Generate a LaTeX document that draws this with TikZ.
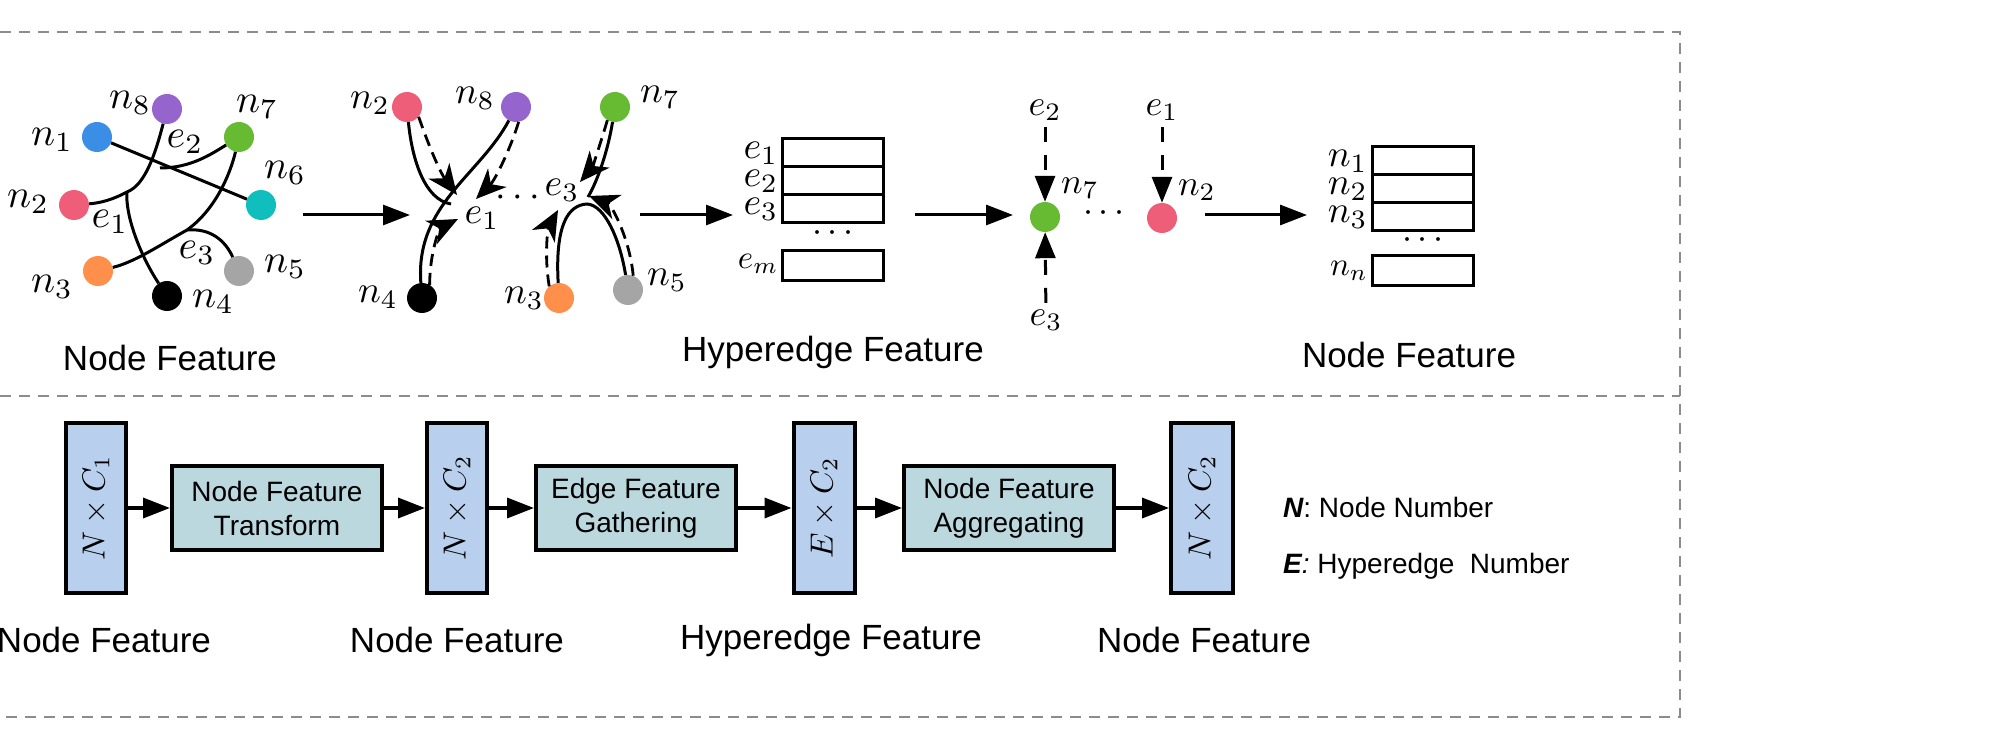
\documentclass[tikz,border=0pt]{standalone}
\usepackage[no-math]{fontspec}
\setmainfont{Liberation Sans}
\usetikzlibrary{arrows.meta}
\definecolor{cBlue}{RGB}{58,142,230}
\definecolor{cPurple}{RGB}{150,100,205}
\definecolor{cGreen}{RGB}{102,187,51}
\definecolor{cTeal}{RGB}{17,190,190}
\definecolor{cPink}{RGB}{238,94,120}
\definecolor{cOrange}{RGB}{255,143,74}
\definecolor{cGray}{RGB}{165,165,165}
\definecolor{frameGray}{RGB}{140,140,140}
\definecolor{dimFill}{RGB}{184,208,237}
\definecolor{procFill}{RGB}{188,216,223}
\newcommand{\dimtext}[1]{\scalebox{3.2}{\rotatebox{90}{$#1$}}}
\begin{document}
\begin{tikzpicture}[x=1pt,y=-1pt,
  dot/.style={circle,minimum size=30pt,inner sep=0pt},
  gedge/.style={line width=3pt},
  flowarrow/.style={line width=3pt,-{Triangle[length=27pt,width=20pt]}},
  dasharrow/.style={line width=2.8pt,dash pattern=on 12pt off 7pt,-{Stealth[length=30pt,width=26pt,inset=9pt]}},
  vdash/.style={line width=3pt,dash pattern=on 15pt off 13pt,-{Triangle[length=26pt,width=20pt]}},
  mbase/.style={inner sep=0pt,font=\fontsize{10}{12}\selectfont},
  mlab/.style={mbase,scale=4},
  mlabb/.style={mbase,scale=3.8},
  mlabc/.style={mbase,scale=3.6},
  msmall/.style={mbase,scale=3.3},
  caption/.style={inner sep=0pt,font=\fontsize{35}{42}\selectfont},
  rowbox/.style={draw,line width=3pt,minimum width=101pt,minimum height=28pt,inner sep=0pt},
  dimbox/.style={draw,line width=4pt,fill=dimFill,minimum width=60pt,minimum height=170pt,inner sep=0pt,font=\fontsize{10}{12}\selectfont},
  procbox/.style={draw,line width=4pt,fill=procFill,minimum height=84pt,inner sep=0pt,align=center,font=\fontsize{28}{34}\selectfont},
  legend/.style={inner sep=0pt,anchor=west,font=\fontsize{28}{33}\selectfont},
  frame/.style={draw=frameGray,line width=2pt,dash pattern=on 11pt off 8pt}
]
\useasboundingbox (0,0) rectangle (2009,751);

% ---------- dashed frame ----------
\coordinate (fTL) at (0,32);
\coordinate (fTR) at (1680,32);
\coordinate (fML) at (0,396);
\coordinate (fMR) at (1680,396);
\coordinate (fBL) at (0,717);
\coordinate (fBR) at (1680,717);
\draw[frame] (fTL) -- (fTR) -- (fBR) -- (fBL);
\draw[frame] (fML) -- (fMR);

% ---------- panel 1: hypergraph ----------
\node[dot,fill=cBlue]   (n1) at (97,137) {};
\node[dot,fill=cPurple] (n8) at (167,109) {};
\node[dot,fill=cGreen]  (n7) at (239,137) {};
\node[dot,fill=cTeal]   (n6) at (261,205) {};
\node[dot,fill=cPink]   (n2) at (74,205) {};
\node[dot,fill=cOrange] (n3) at (98,271) {};
\node[dot,fill=black]   (n4) at (167,296) {};
\node[dot,fill=cGray]   (n5) at (239,271) {};
\coordinate (j1) at (127,192);
\coordinate (j2) at (160,168);
\coordinate (j3) at (187,230);
\draw[gedge] (n1) -- (n6);
\draw[gedge] (n8) .. controls (155,155) and (145,185) .. (j1) .. controls (112,200) and (100,203) .. (n2);
\draw[gedge] (j1) .. controls (125,215) and (140,255) .. (n4);
\draw[gedge] (n7) .. controls (210,155) and (190,168) .. (j2);
\draw[gedge] (n7) .. controls (230,175) and (215,210) .. (j3) .. controls (160,245) and (135,262) .. (n3);
\draw[gedge] (j3) .. controls (210,228) and (225,240) .. (n5);
\node[mlab] (ln8) at (130,103) {$n_8$};
\node[mlab] (ln7) at (257,107) {$n_7$};
\node[mlab] (ln1) at (52,140) {$n_1$};
\node[mlab] (ln6) at (285,173) {$n_6$};
\node[mlab] (ln2) at (28,202) {$n_2$};
\node[mlab] (le2) at (185,142) {$e_2$};
\node[mlab] (le1) at (110,222) {$e_1$};
\node[mlab] (le3) at (197,253) {$e_3$};
\node[mlab] (ln5) at (285,267) {$n_5$};
\node[mlab] (ln3) at (52,287) {$n_3$};
\node[mlab] (ln4) at (213,302) {$n_4$};
\node[caption] (cap1) at (170,358) {Node Feature};

\coordinate (a1s) at (303,215);
\coordinate (a1e) at (410,215);
\draw[flowarrow] (a1s) -- (a1e);

% ---------- panel 2: gathering ----------
\node[dot,fill=cPink]   (m2) at (407,107) {};
\node[dot,fill=cPurple] (m8) at (516,107) {};
\node[dot,fill=cGreen]  (m7) at (615,107) {};
\node[dot,fill=black]   (m4) at (422,298) {};
\node[dot,fill=cOrange] (m3) at (559,298) {};
\node[dot,fill=cGray]   (m5) at (628,290) {};
\coordinate (k1) at (451,204);
\coordinate (k1a) at (457,195);
\coordinate (k1b) at (476,199);
\coordinate (k1c) at (458,219);
\draw[gedge] (m2) .. controls (412,160) and (425,200) .. (k1);
\draw[gedge] (m8) .. controls (480,175) and (415,205) .. (m4);
\draw[dasharrow] (m2.-40) .. controls (432,155) and (442,175) .. (k1a);
\draw[dasharrow] (m8.-80) .. controls (510,150) and (495,180) .. (k1b);
\draw[dasharrow] (m4.60) .. controls (430,250) and (440,228) .. (k1c);

\coordinate (k3) at (587,204);
\coordinate (k3t) at (588,197);
\coordinate (k3a) at (580,182);
\coordinate (k3b) at (558,210);
\coordinate (k3c) at (589,196);
\draw[gedge] (m7) .. controls (608,150) and (598,180) .. (k3t);
\draw[gedge] (m3) .. controls (555,225) and (568,205) .. (k3) .. controls (605,205) and (620,240) .. (m5);
\draw[dasharrow] (m7.-120) .. controls (600,145) and (592,168) .. (k3a);
\draw[dasharrow] (m3.130) .. controls (544,255) and (548,228) .. (k3b);
\draw[dasharrow] (m5.70) .. controls (630,240) and (612,205) .. (k3c);

\node[mlabb] (lm2) at (370,103) {$n_2$};
\node[mlabb] (lm8) at (475,98) {$n_8$};
\node[mlabb] (lm7) at (660,97) {$n_7$};
\node[mlabb] (lm4) at (378,297) {$n_4$};
\node[mlabb] (lm3) at (524,298) {$n_3$};
\node[mlabb] (lm5) at (667,280) {$n_5$};
\node[mlabb] (lme1) at (482,218) {$e_1$};
\node[mlabb] (lme3) at (562,190) {$e_3$};
\node[mlabb] (dots2) at (518,198) {$\cdots$};

\coordinate (a2s) at (640,215);
\coordinate (a2e) at (733,215);
\draw[flowarrow] (a2s) -- (a2e);

% ---------- hyperedge table ----------
\node[rowbox] (he1) at (833,153) {};
\node[rowbox] (he2) at (833,181) {};
\node[rowbox] (he3) at (833,209) {};
\node[rowbox,minimum height=29pt] (hem) at (833,265.5) {};
\node[mlabc] (dots3) at (833,234) {$\cdots$};
\node[mlabb,anchor=east] (lhe1) at ([xshift=-2pt]he1.west) {$e_1$};
\node[mlabb,anchor=east] (lhe2) at ([xshift=-2pt]he2.west) {$e_2$};
\node[mlabb,anchor=east] (lhe3) at ([xshift=-2pt]he3.west) {$e_3$};
\node[msmall,anchor=east] (lhem) at ([xshift=-2pt,yshift=2pt]hem.west) {$e_m$};
\node[caption] (cap2) at (833,352) {Hyperedge Feature};

\coordinate (a3s) at (915,215);
\coordinate (a3e) at (1013,215);
\draw[flowarrow] (a3s) -- (a3e);

% ---------- panel 3: aggregating ----------
\node[dot,fill=cGreen] (q7) at (1045,217) {};
\node[dot,fill=cPink]  (q2) at (1162,218) {};
\node[mlabc] (qe2) at (1045,110) {$e_2$};
\node[mlabc] (qe1) at (1162,110) {$e_1$};
\node[mlabc] (qe3) at (1046,320) {$e_3$};
\node[mlabc] (lq7) at (1080,188) {$n_7$};
\node[mlabc] (lq2) at (1197,190) {$n_2$};
\node[mlabc] (dots4) at (1104,214) {$\cdots$};
\draw[vdash,shorten <=6pt] (qe2) -- (q7);
\draw[vdash,shorten <=6pt] (qe1) -- (q2);
\draw[vdash,shorten <=6pt] (qe3) -- (q7);

\coordinate (a4s) at (1205,215);
\coordinate (a4e) at (1307,215);
\draw[flowarrow] (a4s) -- (a4e);

% ---------- node table ----------
\node[rowbox] (nt1) at (1422.5,161) {};
\node[rowbox] (nt2) at (1422.5,189) {};
\node[rowbox] (nt3) at (1422.5,217) {};
\node[rowbox,minimum height=29pt] (ntn) at (1422.5,270.5) {};
\node[mlabc] (dots5) at (1423,240) {$\cdots$};
\node[mlabb,anchor=east] (lnt1) at ([xshift=-2pt]nt1.west) {$n_1$};
\node[mlabb,anchor=east] (lnt2) at ([xshift=-2pt]nt2.west) {$n_2$};
\node[mlabb,anchor=east] (lnt3) at ([xshift=-2pt]nt3.west) {$n_3$};
\node[msmall,anchor=east] (lntn) at ([xshift=-2pt]ntn.west) {$n_n$};
\node[caption] (cap3) at (1409,355) {Node Feature};

% ---------- bottom pipeline ----------
\node[dimbox] (B1) at (96,508) {\dimtext{N\times C_1}};
\node[procbox,minimum width=210pt] (T1) at (277,508) {Node Feature\\Transform};
\node[dimbox] (B2) at (457,508) {\dimtext{N\times C_2}};
\node[procbox,minimum width=200pt] (T2) at (636,508) {Edge Feature\\Gathering};
\node[dimbox,minimum width=61pt] (B3) at (824,508) {\dimtext{E\times C_2}};
\node[procbox,minimum width=210pt] (T3) at (1009,508) {Node Feature\\Aggregating};
\node[dimbox,minimum width=62pt] (B4) at (1202,508) {\dimtext{N\times C_2}};
\draw[flowarrow,line width=3.5pt] (B1) -- (T1);
\draw[flowarrow,line width=3.5pt] (T1) -- (B2);
\draw[flowarrow,line width=3.5pt] (B2) -- (T2);
\draw[flowarrow,line width=3.5pt] (T2) -- (B3);
\draw[flowarrow,line width=3.5pt] (B3) -- (T3);
\draw[flowarrow,line width=3.5pt] (T3) -- (B4);

\node[caption] (bc1) at (104,640) {Node Feature};
\node[caption] (bc2) at (457,640) {Node Feature};
\node[caption] (bc3) at (831,640) {Hyperedge Feature};
\node[caption] (bc4) at (1204,640) {Node Feature};

\node[legend] (legN) at (1283,507) {{\bfseries\itshape N}: Node Number};
\node[legend] (legE) at (1283,566) {{\bfseries\itshape E}{\itshape :} Hyperedge\ \ Number};
\end{tikzpicture}
\end{document}
